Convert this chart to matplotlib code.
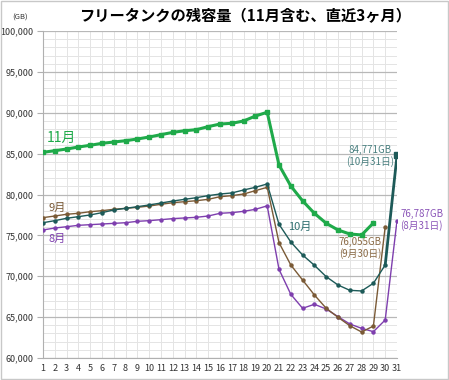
import matplotlib.pyplot as plt
from matplotlib.ticker import MultipleLocator, FuncFormatter

plt.rcParams['font.family'] = ['Noto Sans CJK JP', 'DejaVu Sans']

# daily free capacity (GB)
days = list(range(1, 32))
nov = [85160, 85360, 85560, 85810, 86020, 86260, 86420, 86580, 86790, 87030,
       87320, 87600, 87800, 87930, 88300, 88620, 88710, 88990, 89600, 90060,
       83610, 81040, 79220, 77700, 76480, 75660, 75170, 75050, 76520]
oct_ = [76550, 76800, 77090, 77290, 77500, 77780, 78110, 78310, 78510, 78720,
        78960, 79200, 79410, 79610, 79860, 80060, 80190, 80550, 80880, 81290,
        76360, 74190, 72600, 71340, 69950, 68930, 68280, 68200, 69140, 71380,
        84771]
sep = [77170, 77370, 77580, 77700, 77900, 78020, 78190, 78310, 78430, 78590,
       78800, 79000, 79120, 79240, 79410, 79730, 79860, 80060, 80470, 80880,
       74110, 71380, 69540, 67710, 66080, 64980, 63950, 63180, 63910, 76055]
aug = [75660, 75900, 76060, 76230, 76310, 76390, 76470, 76550, 76720, 76800,
       76920, 77050, 77130, 77210, 77370, 77700, 77780, 77940, 78190, 78610,
       70850, 67790, 66080, 66570, 65990, 65060, 64160, 63630, 63220, 64650,
       76787]

colors = {
    'nov': '#1FAA4A',
    'oct': '#1D5A58',
    'sep': '#7A5A36',
    'aug': '#7E3FAE',
}

fig = plt.figure(figsize=(4.49, 3.80), dpi=100)
fig.patch.set_facecolor('white')
ax = fig.add_axes([43 / 449, 22 / 380, 354 / 449, 327 / 380])

ax.plot(days[:len(aug)], aug, color=colors['aug'], lw=1.0, marker='o', ms=2.2, zorder=3)
ax.plot(days[:len(sep)], sep, color=colors['sep'], lw=1.0, marker='o', ms=2.2, zorder=3)
ax.plot(days[:len(oct_) - 1], oct_[:-1], color=colors['oct'], lw=1.0, marker='o', ms=2.2, zorder=4)
ax.plot(days[29:31], oct_[29:31], color=colors['oct'], lw=2.0, zorder=4)
ax.plot([days[30]], [oct_[30]], color=colors['oct'], marker='s', ms=5, zorder=5)
ax.plot(days[:len(nov)], nov, color=colors['nov'], lw=2.2, marker='s', ms=3.5, zorder=5)

ax.set_xlim(1, 31)
ax.set_ylim(60000, 100000)
ax.xaxis.set_major_locator(MultipleLocator(1))
ax.yaxis.set_major_locator(MultipleLocator(5000))
ax.yaxis.set_minor_locator(MultipleLocator(1000))
ax.yaxis.set_major_formatter(FuncFormatter(lambda v, p: f'{int(v):,}'))

ax.grid(which='major', axis='y', color='#B8B8B8', lw=0.9)
ax.grid(which='minor', axis='y', color='#E4E4E4', lw=0.7)
ax.grid(which='major', axis='x', color='#E4E4E4', lw=0.7)
ax.set_axisbelow(True)

for s in ['top', 'right']:
    ax.spines[s].set_visible(False)
ax.spines['left'].set_color('#B0B0B0')
ax.spines['bottom'].set_color('#B0B0B0')
ax.tick_params(axis='both', which='both', length=0, labelsize=6.5, colors='#333333')
ax.tick_params(axis='y', which='major', length=4, color='#B0B0B0', pad=3)
ax.tick_params(axis='x', pad=4)

# series labels
ax.text(1.3, 86100, '11月', color=colors['nov'], fontsize=10, ha='left', va='bottom')
ax.text(1.5, 77700, '9月', color=colors['sep'], fontsize=8, ha='left', va='bottom')
ax.text(1.5, 75200, '8月', color=colors['aug'], fontsize=8, ha='left', va='top')
ax.text(21.8, 76000, '10月', color='#2F6F70', fontsize=8, ha='left', va='center')

ax.text(28.7, 84700, '84,771GB\n(10月31日)', color='#4A8080', fontsize=7,
        ha='center', va='center', linespacing=1.1)
ax.text(27.9, 73450, '76,055GB\n(9月30日)', color='#8A6A45', fontsize=7,
        ha='center', va='center', linespacing=1.1)
ax.text(33.1, 76900, '76,787GB\n(8月31日)', color='#8B55B8', fontsize=7,
        ha='center', va='center', linespacing=1.1, clip_on=False)

fig.text(245 / 449, 1 - 16 / 380, 'フリータンクの残容量（11月含む、直近3ヶ月）',
         fontsize=11, fontweight='bold', ha='center', va='center')
fig.text(20 / 449, 1 - 18 / 380, '(GB)', fontsize=5.5, ha='center', va='center', color='#333333')

fig.add_artist(plt.Rectangle((0.002, 0.002), 0.996, 0.996, transform=fig.transFigure,
                             fill=False, edgecolor='#C8C8C8', lw=1.0))

fig.savefig('out.png', dpi=100, facecolor='white')
